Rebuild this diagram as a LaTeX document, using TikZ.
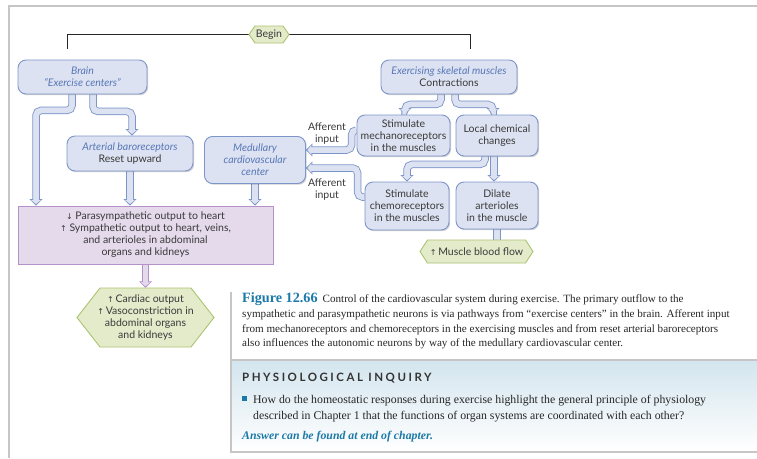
\documentclass[tikz,border=0pt]{standalone}
\usepackage{fontspec}
\setmainfont{Liberation Serif}
\newfontfamily\diag{Lato}
\newfontfamily\arr{DejaVu Sans}
\usetikzlibrary{arrows.meta,shadows,calc,backgrounds}
\definecolor{fillB}{HTML}{DCE2F1}
\definecolor{bordB}{HTML}{7D95C9}
\definecolor{blueT}{HTML}{5877B8}
\definecolor{txt}{HTML}{3A3A3A}
\definecolor{purpF}{HTML}{E5DAEB}
\definecolor{purpB}{HTML}{B590C9}
\definecolor{grnF}{HTML}{E3EBCB}
\definecolor{grnB}{HTML}{A9C46F}
\definecolor{capB}{HTML}{1B79A8}
\definecolor{inqT}{HTML}{D3E5EE}
\definecolor{frameG}{HTML}{C6C6C6}
\newcommand\up{{\arr\fontsize{8}{12}\selectfont ↑}}
\newcommand\dn{{\arr\fontsize{8}{12}\selectfont ↓}}
\newcommand\bl[1]{{\itshape\color{blueT}#1}}
\newcommand\hexpath[5]{\filldraw[hexsty] (#1-#3/2,#2) -- (#1-#3/2+#5,#2-#4/2) -- (#1+#3/2-#5,#2-#4/2) -- (#1+#3/2,#2) -- (#1+#3/2-#5,#2+#4/2) -- (#1-#3/2+#5,#2+#4/2) -- cycle;}
\tikzset{
  dfont/.style={font=\diag\fontsize{10.5}{12}\selectfont, text=txt},
  bx/.style={dfont, draw=bordB, fill=fillB, line width=0.9pt, rounded corners=8pt,
    align=center, inner sep=0pt,
    drop shadow={shadow xshift=1.2pt, shadow yshift=-1.2pt, fill=black, opacity=0.18}},
  pbox/.style={dfont, draw=purpB, fill=purpF, line width=0.9pt, align=center, inner sep=0pt},
  hexsty/.style={draw=grnB, fill=grnF, line width=0.9pt},
  htext/.style={dfont, align=center, inner sep=0pt},
  fat/.style 2 args={rounded corners=5pt, draw=#2, line width=7.5pt,
    -{Triangle[width=13pt,length=6.5pt]},
    postaction={draw=#1, line width=5.5pt, -{Triangle[width=9.5pt,length=4pt]}, shorten >=1.5pt},
    postaction={draw=#1, line width=5.5pt, -, shorten >=4pt}},
  capt/.style={anchor=base west, inner sep=0pt, font=\fontsize{11.1}{14.5}\selectfont, text=black!85},
  inq/.style={anchor=base west, inner sep=0pt, font=\fontsize{11.8}{14.5}\selectfont, text=black!85},
}
\begin{document}
\begin{tikzpicture}[x=1pt,y=-1pt]
\useasboundingbox (0,0) rectangle (757,458);
% frame
\draw[frameG, line width=1.8pt] (9,458) -- (9,6) -- (757,6);

% boxes
\node[bx, minimum width=129pt, minimum height=34pt] (brain) at (82.5,77) {\bl{Brain}\\\bl{“Exercise centers”}};
\node[bx, minimum width=136pt, minimum height=34pt] (esm) at (449,77) {\bl{Exercising skeletal muscles}\\Contractions};
\node[bx, minimum width=126pt, minimum height=35pt] (baro) at (130,153.5) {\bl{Arterial baroreceptors}\\Reset upward};
\node[bx, minimum width=101pt, minimum height=47pt] (med) at (255,160) {\bl{Medullary}\\\bl{cardiovascular}\\\bl{center}};
\node[bx, minimum width=93pt, minimum height=41pt] (mech) at (403.5,135.5) {Stimulate\\mechanoreceptors\\in the muscles};
\node[bx, minimum width=82pt, minimum height=41pt] (local) at (497,135.5) {Local chemical\\changes};
\node[bx, minimum width=84pt, minimum height=48pt] (chemo) at (407,206) {Stimulate\\chemoreceptors\\in the muscles};
\node[bx, minimum width=82pt, minimum height=47pt] (dilate) at (497,205.5) {Dilate\\arterioles\\in the muscle};
\node[pbox, minimum width=255pt, minimum height=58pt] (purple) at (145.5,235) {\dn\ Parasympathetic output to heart\\\up\ Sympathetic output to heart, veins,\\and arterioles in abdominal\\organs and kidneys};

% begin line (behind)
\coordinate (bL) at (67,49);
\coordinate (bR) at (470,49);
\draw[black!85, line width=0.8pt] (bL) |- (269,34.5) -| (bR);

% hexagons
\hexpath{269}{34.5}{40}{17}{6}
\node[htext] (begin) at (269,34.5) {Begin};
\hexpath{476.5}{251.5}{113}{23}{7.5}
\node[htext] (mbf) at (476.5,251.5) {\up\,Muscle blood flow};
\hexpath{145.5}{317.5}{137}{59}{23}
\node[htext, minimum width=137pt, minimum height=59pt] (cardiac) at (145.5,317.5) {\up\,Cardiac output\\\up\,Vasoconstriction in\\abdominal organs\\and kidneys};

% afferent labels
\node[htext] (aff1) at (327,133.5) {Afferent\\input};
\node[htext] (aff2) at (327,189.5) {Afferent\\input};

% connectors
\begin{scope}[on background layer]
\draw[fat={fillB}{bordB}] ([xshift=-10.5pt]brain.south) -- ++(0,16) -| ([xshift=-109.5pt]purple.north);
\draw[fat={fillB}{bordB}] ([xshift=10.5pt]brain.south) -- ++(0,17) -| ([xshift=2pt]baro.north);
\draw[fat={fillB}{bordB}] (baro.south) -- (baro.south |- purple.north);
\draw[fat={fillB}{bordB}] (med.south) -- (med.south |- purple.north);
\draw[fat={fillB}{bordB}] ([xshift=-8pt]esm.south) -- ++(0,10) -| ([xshift=1.5pt]mech.north);
\draw[fat={fillB}{bordB}] ([xshift=6pt]esm.south) -- ++(0,10) -| ([xshift=-4pt]local.north);
\draw[fat={fillB}{bordB}] ([xshift=-12pt]local.south) -- ++(0,8) -| (chemo.north);
\draw[fat={fillB}{bordB}] ([xshift=-3pt]local.south) -- ([xshift=-3pt]dilate.north);
\draw[fat={fillB}{bordB}] (dilate.south) -- (dilate.south |- mbf.north);
\draw[fat={fillB}{bordB}] ([yshift=5.5pt]mech.west) -- ++(-5,0) |- ([yshift=10pt]med.east);
\draw[fat={fillB}{bordB}] ([yshift=9pt]chemo.west) -- ++(-7,0) |- ([yshift=-8pt]med.east);
\draw[fat={purpF}{purpB}] (purple.south) -- (purple.south |- cardiac.north);
\end{scope}

% caption
\node[capt] (c1) at (242,302.7) {{\color{capB}\bfseries\fontsize{14.2}{14}\selectfont Figure 12.66}\hspace{5pt}Control of the cardiovascular system during exercise. The primary outflow to the};
\node[capt] (c2) at (242,317.5) {sympathetic and parasympathetic neurons is via pathways from “exercise centers” in the brain. Afferent input};
\node[capt] (c3) at (242,332) {from mechanoreceptors and chemoreceptors in the exercising muscles and from reset arterial baroreceptors};
\node[capt] (c4) at (242,346.5) {also influences the autonomic neurons by way of the medullary cardiovascular center.};

% inquiry box
\shade[top color=inqT, bottom color=white] (231,360) rectangle (757,452);
\draw[frameG, line width=1.2pt] (231,360) -- (757,360);
\draw[frameG, line width=1.8pt] (231,292) -- (231,452) -- (757,452);
\node[anchor=base west, inner sep=0pt, font=\diag\bfseries\fontsize{11.5}{12}\selectfont\addfontfeature{LetterSpace=22}, text=black!80] (pi) at (242,381.7) {PHYSIOLOGICAL INQUIRY};
\fill[capB] (242,396) rectangle (247,401);
\node[inq] (q1) at (253,403) {How do the homeostatic responses during exercise highlight the general principle of physiology};
\node[inq] (q2) at (253,419.3) {described in Chapter 1 that the functions of organ systems are coordinated with each other?};
\node[inq, font=\bfseries\itshape\fontsize{11.8}{12}\selectfont, text=capB] (ans) at (242,439.3) {Answer can be found at end of chapter.};
\end{tikzpicture}
\end{document}
